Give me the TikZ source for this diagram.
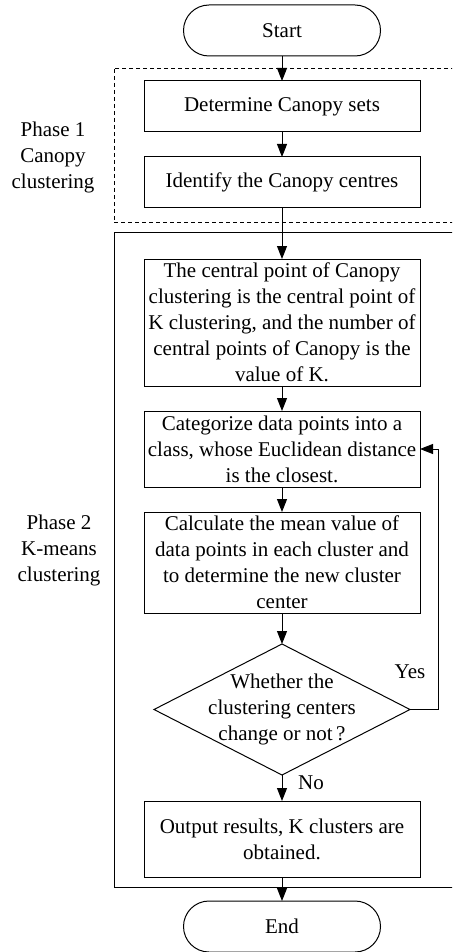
\documentclass[tikz,border=0pt]{standalone}
\usepackage{fontspec}
\setmainfont{Liberation Serif}
\usetikzlibrary{shapes.geometric,arrows.meta}
\begin{document}
\begin{tikzpicture}
[x=0.5pt,y=-0.5pt,>={Triangle[length=6.5pt,width=5pt]},line width=0.5pt,
font=\fontsize{10.5pt}{13pt}\selectfont,
box/.style = {draw, rectangle, align=center, minimum width=138pt, inner sep=0pt, outer sep=0pt},
term/.style = {draw, rectangle, rounded corners=12.75pt, minimum width=98.5pt, minimum height=25.5pt, inner sep=0pt, outer sep=0pt},
cond/.style = {draw, diamond, minimum width=128pt, minimum height=65.5pt, inner sep=0pt, outer sep=0pt},]
\clip (0,0) rectangle (452,952);
\draw [dash pattern=on 2pt off 1.5pt] (114,69) rectangle (470,223);
\draw (114,233) rectangle (470,887);
\node (P1) at (53,157)[align=center] {Phase 1\\Canopy\\clustering};
\node (P2) at (59,550)[align=center] {Phase 2\\K-means\\clustering};
\node (S) at (282,30.5)[term] {Start};
\node (B1) at (282,106.5)[box,minimum height=25.5pt] {Determine Canopy sets};
\node (B2) at (282,182.5)[box,minimum height=25.5pt] {Identify the Canopy centres};
\node (B3) at (282,322.5)[box,minimum height=63.5pt] {The central point of Canopy\\clustering is the central point of\\K clustering, and the number of\\central points of Canopy is the\\value of K.};
\node (B4) at (282,449)[box,minimum height=38pt] {Categorize data points into a\\class, whose Euclidean distance\\is the closest.};
\node (B5) at (282,562.5)[box,minimum height=50.5pt] {Calculate the mean value of\\data points in each cluster and\\to determine the new cluster\\center};
\node (Q) at (282,709.5)[cond,label={[align=center]center:Whether the\\clustering centers\\change or not\,?}] {};
\node (B6) at (282,839)[box,minimum height=38pt] {Output results, K clusters are\\obtained.};
\node (E) at (282,926.5)[term] {End};
\node (yes) at (410,672) {Yes};
\node (no) at (311,783) {No};
\draw [->] (S) -- (B1);
\draw [->] (B1) -- (B2);
\draw [->] (B2) -- (B3);
\draw [->] (B3) -- (B4);
\draw [->] (B4) -- (B5);
\draw [->] (B5) -- (Q);
\draw [->] (Q) -- (B6);
\draw [->] (B6) -- (E);
\draw [->] (Q.east) -- ++(28,0) |- (B4.east);
\end{tikzpicture}
\end{document}
